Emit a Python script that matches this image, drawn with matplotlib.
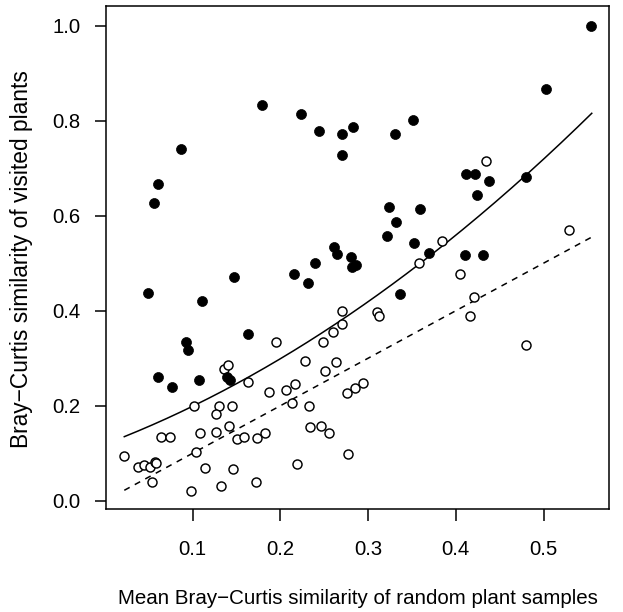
import numpy as np
import matplotlib.pyplot as plt

plt.rcParams['font.family'] = ['Liberation Sans', 'DejaVu Sans']

# visited plants (filled) vs. random samples (open)
filled_x = [0.179, 0.223, 0.244, 0.270, 0.270, 0.087, 0.061, 0.056, 0.283, 0.554,
            0.503, 0.351, 0.331, 0.412, 0.422, 0.438, 0.424, 0.480, 0.324, 0.359,
            0.332, 0.321, 0.352, 0.369, 0.411, 0.431, 0.261, 0.265, 0.281, 0.286,
            0.282, 0.336, 0.049, 0.111, 0.147, 0.215, 0.232, 0.240, 0.092, 0.095,
            0.163, 0.060, 0.076, 0.107, 0.139, 0.142]
filled_y = [0.833, 0.815, 0.779, 0.771, 0.728, 0.741, 0.667, 0.626, 0.787, 1.000,
            0.867, 0.802, 0.771, 0.688, 0.688, 0.672, 0.644, 0.682, 0.619, 0.614,
            0.586, 0.557, 0.543, 0.521, 0.517, 0.517, 0.535, 0.519, 0.514, 0.496,
            0.491, 0.435, 0.438, 0.421, 0.470, 0.477, 0.458, 0.500, 0.334, 0.317,
            0.350, 0.261, 0.239, 0.254, 0.261, 0.254]

open_x = [0.434, 0.529, 0.384, 0.358, 0.405, 0.421, 0.416, 0.480, 0.310, 0.312,
          0.270, 0.270, 0.260, 0.263, 0.276, 0.285, 0.294, 0.277, 0.136, 0.140,
          0.195, 0.228, 0.248, 0.251, 0.163, 0.187, 0.206, 0.217, 0.213, 0.102,
          0.130, 0.145, 0.126, 0.233, 0.234, 0.246, 0.255, 0.141, 0.064, 0.074,
          0.108, 0.126, 0.150, 0.158, 0.173, 0.183, 0.022, 0.038, 0.045, 0.051,
          0.057, 0.058, 0.054, 0.104, 0.114, 0.098, 0.132, 0.146, 0.172, 0.219]
open_y = [0.716, 0.570, 0.547, 0.501, 0.477, 0.428, 0.389, 0.327, 0.397, 0.389,
          0.400, 0.372, 0.356, 0.293, 0.227, 0.237, 0.248, 0.098, 0.277, 0.286,
          0.334, 0.294, 0.334, 0.274, 0.249, 0.228, 0.233, 0.245, 0.206, 0.199,
          0.200, 0.199, 0.182, 0.199, 0.155, 0.158, 0.143, 0.158, 0.134, 0.134,
          0.143, 0.144, 0.130, 0.134, 0.132, 0.143, 0.095, 0.070, 0.075, 0.072,
          0.082, 0.080, 0.039, 0.102, 0.069, 0.020, 0.032, 0.066, 0.039, 0.077]

# fitted curve (quadratic) and 1:1 line
fit_coef = [0.119, 0.70, 1.0]
x_range = [0.022, 0.555]

fig = plt.figure(figsize=(6.23, 6.12), dpi=100)
ax = fig.add_axes([105.7 / 623, 1 - 509.3 / 612, 503.6 / 623, 503.6 / 612])

xs = np.linspace(x_range[0], x_range[1], 200)
ax.plot(xs, fit_coef[0] + fit_coef[1] * xs + fit_coef[2] * xs ** 2, color='black', lw=1.1)
ax.plot(x_range, x_range, color='black', lw=1.1, linestyle=(0, (4.0, 3.8)))

ax.plot(open_x, open_y, 'o', ms=6.5, mfc='white', mec='black', mew=1.05)
ax.plot(filled_x, filled_y, 'o', ms=7.2, mfc='black', mec='black', mew=0.5)

ax.set_xlim(0.0008, 0.575)
ax.set_ylim(-0.018, 1.042)
ax.set_xticks([0.1, 0.2, 0.3, 0.4, 0.5])
ax.set_xticklabels(['0.1', '0.2', '0.3', '0.4', '0.5'])
ax.set_yticks([0.0, 0.2, 0.4, 0.6, 0.8, 1.0])
ax.set_yticklabels(['0.0', '0.2', '0.4', '0.6', '0.8', '1.0'])
ax.tick_params(axis='x', length=8.9, width=1.1, pad=13.5, labelsize=14.6)
ax.tick_params(axis='y', length=8.2, width=1.1, pad=10.0, labelsize=14.6)
for s in ax.spines.values():
    s.set_linewidth(1.1)

fig.text(357.5 / 623, 8 / 612, 'Mean Bray\u2212Curtis similarity of random plant samples',
         ha='center', va='baseline', fontsize=14.8)
fig.text(10 / 623, 1 - 259 / 612, 'Bray\u2212Curtis similarity of visited plants',
         ha='left', va='center', rotation=90, fontsize=16.4)

fig.savefig('out.png', dpi=100)
